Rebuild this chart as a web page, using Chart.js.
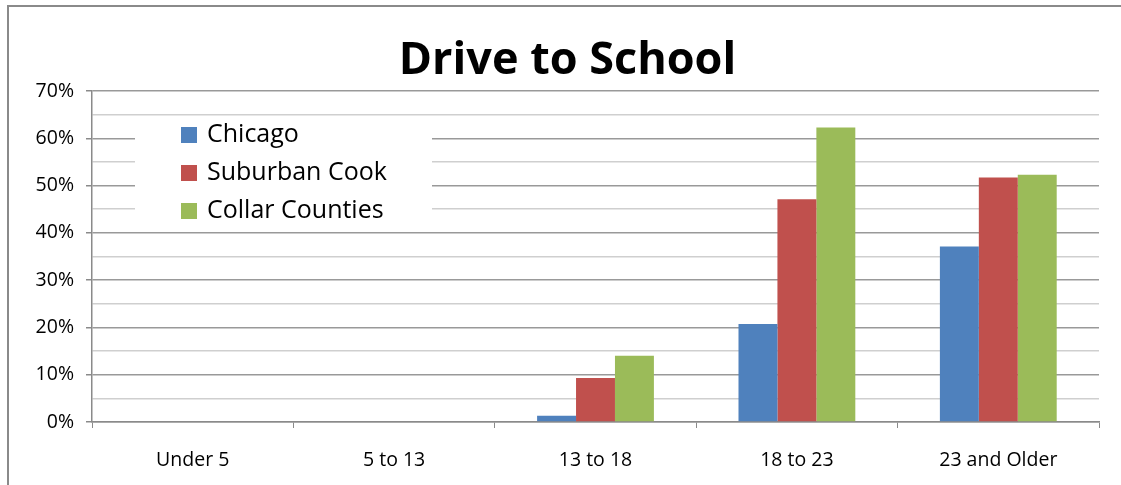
<!DOCTYPE html>
<html>
<head>
<meta charset="utf-8">
<script src="https://cdn.jsdelivr.net/npm/chart.js@4.4.1/dist/chart.umd.min.js"></script>
<style>
  body { margin: 0; background: #fff; overflow: hidden; }
</style>
</head>
<body>
<canvas id="chart" width="1121" height="485"></canvas>
<script>
// Dados do gráfico
const categories = ['Under 5', '5 to 13', '13 to 18', '18 to 23', '23 and Older'];
const chicago = [0, 0, 1.3, 20.7, 37.1];
const suburbanCook = [0, 0, 9.3, 47.1, 51.7];
const collarCounties = [0, 0, 14.0, 62.3, 52.3];
const seriesNames = ['Chicago', 'Suburban Cook', 'Collar Counties'];
const seriesColors = ['#4F81BD', '#C0504D', '#9BBB59'];

const font = '"Open Sans", sans-serif';

// Moldura cinza (só topo e lado esquerdo aparecem no recorte)
const frame = {
    id: 'frame',
    beforeDraw(chart) {
        const ctx = chart.ctx;
        ctx.save();
        ctx.fillStyle = '#fff';
        ctx.fillRect(0, 0, chart.width, chart.height);
        ctx.strokeStyle = '#8a8a8a';
        ctx.lineWidth = 2;
        ctx.beginPath();
        ctx.moveTo(8, chart.height);
        ctx.lineTo(8, 6);
        ctx.lineTo(chart.width, 6);
        ctx.stroke();
        ctx.restore();
    }
};

// Legenda desenhada dentro da área do gráfico, com fundo branco
const insideLegend = {
    id: 'insideLegend',
    beforeDatasetsDraw(chart) {
        const ctx = chart.ctx;
        const area = chart.chartArea;
        const x0 = area.left + 43, y0 = area.top + 27;
        ctx.save();
        ctx.fillStyle = '#fff';
        ctx.fillRect(x0, y0, 297, 110);
        ctx.font = '25px ' + font;
        ctx.textBaseline = 'middle';
        chart.data.datasets.forEach((ds, i) => {
            const cy = y0 + 17 + i * 38;
            ctx.fillStyle = ds.backgroundColor;
            ctx.fillRect(x0 + 46, cy - 8, 16, 16);
            ctx.fillStyle = '#000';
            ctx.fillText(ds.label, x0 + 72, cy);
        });
        ctx.restore();
    }
};

const ctx = document.getElementById('chart').getContext('2d');
new Chart(ctx, {
    type: 'bar',
    data: {
        labels: categories,
        datasets: [chicago, suburbanCook, collarCounties].map((d, i) => ({
            label: seriesNames[i],
            data: d,
            backgroundColor: seriesColors[i],
            borderWidth: 0,
            barPercentage: 1,
            categoryPercentage: 0.58
        }))
    },
    options: {
        responsive: false,
        animation: false,
        layout: { padding: { left: 36, right: 22, top: 0, bottom: 0 } },
        plugins: {
            legend: { display: false },
            tooltip: { enabled: false },
            title: {
                display: true,
                text: 'Drive to School',
                color: '#000',
                font: { family: font, size: 45, weight: 'bold', lineHeight: 1 },
                padding: { top: 39, bottom: 7 }
            }
        },
        scales: {
            x: {
                grid: {
                    offset: true,
                    drawOnChartArea: false,
                    tickLength: 6,
                    color: '#8a8a8a'
                },
                border: { color: '#8a8a8a', width: 1.5 },
                ticks: { color: '#000', font: { family: font, size: 19.5 }, padding: 21 },
                afterFit(scale) { scale.height = 63; }
            },
            y: {
                min: 0,
                max: 70,
                ticks: {
                    stepSize: 5,
                    autoSkip: false,
                    color: '#000',
                    font: { family: font, size: 19.5 },
                    padding: 12,
                    callback: v => v % 10 === 0 ? v + '%' : ''
                },
                grid: {
                    tickLength: 6,
                    lineWidth: 1.5,
                    color: c => c.tick && c.tick.value % 10 === 0 ? '#999' : '#cfcfcf',
                    tickColor: c => c.tick && c.tick.value % 10 === 0 ? '#8a8a8a' : 'rgba(0,0,0,0)'
                },
                border: { color: '#8a8a8a', width: 1.5 },
                afterFit(scale) { scale.width = 56; }
            }
        }
    },
    plugins: [frame, insideLegend]
});
</script>
</body>
</html>
